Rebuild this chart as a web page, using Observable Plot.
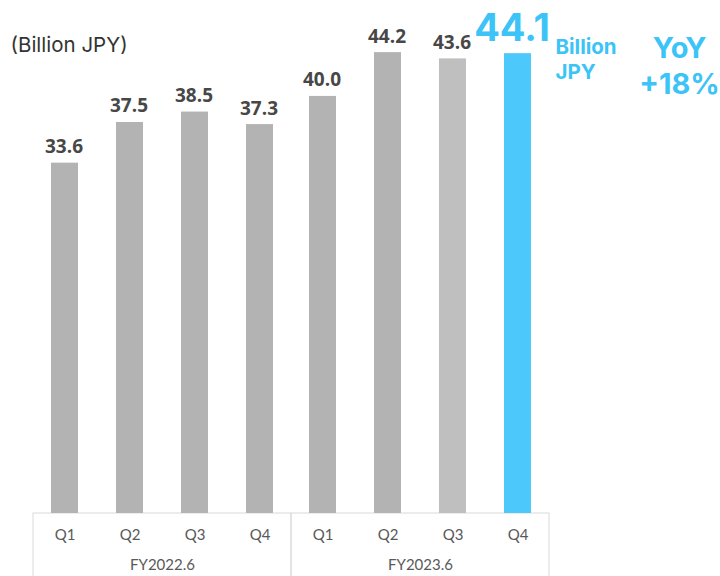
<!DOCTYPE html>
<html>
<head>
<meta charset="utf-8">
<script src="https://cdn.jsdelivr.net/npm/d3@7"></script>
<script src="https://cdn.jsdelivr.net/npm/@observablehq/plot@0.6"></script>
<style>
  html, body { margin: 0; padding: 0; background: #fff; }
  #chart { width: 720px; height: 576px; overflow: hidden; }
</style>
</head>
<body>
<div id="chart"></div>
<script>
// Quarterly revenue, billion JPY
const fiscalYears = ["FY2022.6", "FY2023.6"];
const quarters = ["Q1", "Q2", "Q3", "Q4"];
const revenueFY2022 = [33.6, 37.5, 38.5, 37.3];
const revenueFY2023 = [40.0, 44.2, 43.6, 44.1];
const unitLabel = "(Billion JPY)";
const unitShort = "Billion\nJPY";

const rows = [
  ...quarters.map((q, i) => ({fy: fiscalYears[0], q, value: revenueFY2022[i]})),
  ...quarters.map((q, i) => ({fy: fiscalYears[1], q, value: revenueFY2023[i]}))
];
const latest = rows[rows.length - 1];
const yearAgo = rows[rows.length - 5];
const yoy = Math.round((latest.value / yearAgo.value - 1) * 100);
const yoyLabel = `YoY\n+${yoy}%`;

const gray = "#b3b3b3";
const lightGray = "#bfbfbf";
const blue = "#4cc8fb";
const textBlue = "#3cc3f7";
const barFill = (d) => d === latest ? blue : (d.fy === fiscalYears[1] && d.q === "Q3") ? lightGray : gray;

const plot = Plot.plot({
  width: 720,
  height: 576,
  marginTop: 0,
  marginLeft: 33,
  marginRight: 171,
  marginBottom: 63,
  style: {fontFamily: "Lato, 'Open Sans', sans-serif", background: "#fff"},
  fx: {domain: fiscalYears, paddingInner: 0, paddingOuter: 0, label: null},
  x: {domain: quarters, paddingInner: 0.58, paddingOuter: 0.27, label: null},
  y: {domain: [0, 49.2], axis: null},
  marks: [
    // group boxes below the baseline
    Plot.rect(fiscalYears, {fx: (d) => d, y1: 0, y2: -8, stroke: "#d9d9d9", fill: "none", strokeWidth: 1}),
    Plot.barY(rows, {fx: "fy", x: "q", y: "value", fill: barFill}),
    Plot.text(rows.filter((d) => d !== latest), {
      fx: "fy", x: "q", y: "value", text: (d) => d.value.toFixed(1),
      lineAnchor: "bottom", dy: -10, dx: -1, fontSize: 19, fontWeight: "bold",
      fill: "#474747", fontFamily: "'Open Sans', sans-serif"
    }),
    Plot.text([latest], {
      fx: "fy", x: "q", y: "value", text: (d) => d.value.toFixed(1),
      lineAnchor: "bottom", dy: -13, dx: -6, fontSize: 38, fontWeight: "bold",
      fill: textBlue, fontFamily: "Inter, sans-serif"
    }),
    Plot.text([unitLabel], {
      fx: () => fiscalYears[0], frameAnchor: "top-left", textAnchor: "start",
      lineAnchor: "bottom", dx: -23, dy: 51, fontSize: 20.5, fill: "#333",
      fontFamily: "Inter, sans-serif"
    }),
    Plot.text([unitShort], {
      fx: () => fiscalYears[1], frameAnchor: "top-right", textAnchor: "start",
      lineAnchor: "top", dx: 6, dy: 35, fontSize: 20.5, lineHeight: 1.25,
      fontWeight: "bold", fill: textBlue, fontFamily: "Inter, sans-serif"
    }),
    Plot.text([yoyLabel], {
      fx: () => fiscalYears[1], frameAnchor: "top-right", textAnchor: "middle",
      lineAnchor: "top", dx: 130, dy: 32, fontSize: 29, lineHeight: 1.24,
      fontWeight: "bold", fill: textBlue, fontFamily: "Inter, sans-serif"
    }),
    Plot.axisX({tickSize: 0, tickPadding: 16, fontSize: 15, color: "#595959", label: null}),
    Plot.axisFx({anchor: "bottom", tickSize: 0, tickPadding: 46, fontSize: 15, color: "#595959", label: null})
  ]
});

document.getElementById("chart").appendChild(plot);
</script>
</body>
</html>
